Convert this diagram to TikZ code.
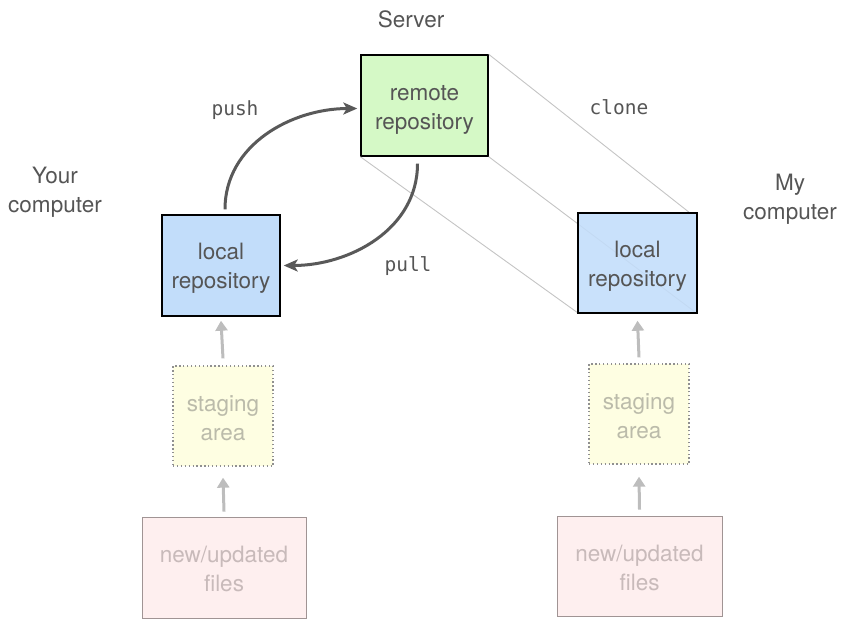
\documentclass[tikz,border=0pt]{standalone}
\usepackage{fontspec}
\setmainfont{TeX Gyre Heros}
\setmonofont{DejaVu Sans Mono}
\usetikzlibrary{arrows.meta,calc}
\definecolor{txt}{HTML}{555555}
\definecolor{bluef}{HTML}{C2DDFA}
\definecolor{greenf}{HTML}{D5F9C6}
\definecolor{stagef}{HTML}{FEFEE2}
\definecolor{stagetxt}{HTML}{BBBBAA}
\definecolor{stagedraw}{HTML}{909090}
\definecolor{filef}{HTML}{FEEFEF}
\definecolor{filetxt}{HTML}{C8BABA}
\definecolor{filedraw}{HTML}{A09494}
\definecolor{clonegray}{HTML}{C4C4C4}
\definecolor{arrgray}{HTML}{BDBDBD}
\definecolor{arrdark}{HTML}{595959}
\newcommand\lowtext[2]{\raisebox{-#1}[\height][\depth]{\begin{tabular}{@{}c@{}}#2\end{tabular}}}
\tikzset{
  lbl/.style={font=\fontsize{22.5}{29}\selectfont, text=txt, align=center},
  mono/.style={font=\ttfamily\fontsize{19.5}{22}\selectfont, text=txt},
  repo/.style={draw=black, line width=1.4pt, inner sep=0pt,
    font=\fontsize{22.5}{29}\selectfont, text=txt},
  stagebox/.style={draw=stagedraw, line width=1.3pt, dash pattern=on 1.3pt off 2.6pt,
    fill=stagef, inner sep=0pt,
    minimum width=100pt, minimum height=100pt,
    font=\fontsize{22.5}{29}\selectfont, text=stagetxt},
  filebox/.style={draw=filedraw, line width=0.9pt, fill=filef, inner sep=0pt,
    font=\fontsize{22.5}{29}\selectfont, text=filetxt},
  clonel/.style={draw=clonegray, line width=0.9pt},
  grayarr/.style={draw=arrgray, line width=3pt, -{Triangle[length=10pt,width=12pt]}},
  darkarr/.style={draw=arrdark, line width=3pt, -{Stealth[length=14pt,width=12pt,inset=3.5pt]}},
}
\begin{document}
\begin{tikzpicture}[x=1pt,y=-1pt]
\useasboundingbox (0,0) rectangle (845,619);
% server
\node[repo, fill=greenf, minimum width=127pt, minimum height=101pt] (R) at (424.5,105.5) {\lowtext{4pt}{remote\\repository}};
% clone lines
\coordinate (C1) at (690,213);
\draw[clonel] (R.north east) -- (C1);
\coordinate (C2) at (695,312);
\coordinate (C3) at (578,313);
\draw[clonel] (R.south east) -- (C2);
\draw[clonel] (R.south west) -- (C3);
% local repos
\node[repo, fill=bluef, minimum width=118pt, minimum height=101pt] (L1) at (221,265.5) {\lowtext{3pt}{local\\repository}};
\node[repo, fill=bluef, fill opacity=0.88, text opacity=1, minimum width=119pt, minimum height=100pt] (L2) at (637.5,263) {\lowtext{3pt}{local\\repository}};
% staging
\node[stagebox] (S1) at (223,416) {\lowtext{4pt}{staging\\area}};
\node[stagebox] (S2) at (639,414) {\lowtext{4pt}{staging\\area}};
% files
\node[filebox, minimum width=164pt, minimum height=101pt] (F1) at (224,567.5) {\lowtext{4pt}{new/updated\\files}};
\node[filebox, minimum width=165pt, minimum height=100pt] (F2) at (639.5,566) {\lowtext{4pt}{new/updated\\files}};
% gray arrows
\draw[grayarr] ([yshift=7pt]S1.north) -- ([yshift=-4pt]L1.south);
\draw[grayarr] ([yshift=5pt]F1.north) -- ([yshift=-11pt]S1.south);
\draw[grayarr] ([yshift=6pt]S2.north) -- ([yshift=-7pt]L2.south);
\draw[grayarr] ([yshift=6pt]F2.north) -- ([yshift=-12pt]S2.south);
% push / pull
\coordinate (P1) at ($(L1.north)+(4,-5)$);
\coordinate (P2) at ($(R.west)+(-3,3)$);
\draw[darkarr] (P1) to[out=90,in=180] (P2);
\coordinate (Q1) at ($(R.south)+(-7,7)$);
\coordinate (Q2) at ($(L1.east)+(3,0)$);
\draw[darkarr] (Q1) to[out=-90,in=0] (Q2);
% labels
\node[lbl] (server) at (411,19) {Server};
\node[lbl] (your) at (55,192) {Your\\computer};
\node[lbl] (my) at (790,199) {My\\computer};
\node[mono] (push) at (235,110) {push};
\node[mono] (pull) at (408,266) {pull};
\node[mono] (clone) at (619,107) {clone};
\end{tikzpicture}
\end{document}
